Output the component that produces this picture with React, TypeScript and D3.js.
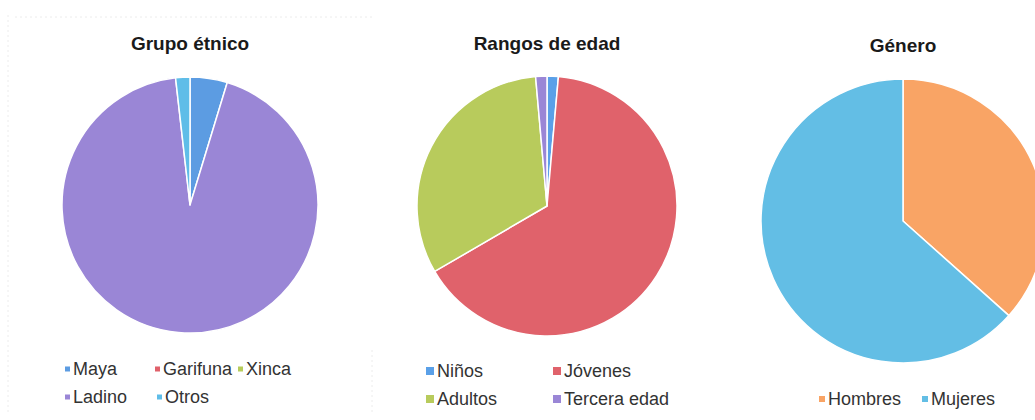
import React from 'react';
import * as d3 from 'd3';

// Grupo étnico
const etnicoLabels = ['Maya', 'Garifuna', 'Xinca', 'Ladino', 'Otros'];
const etnicoValues = [4.7, 0, 0, 93.5, 1.8];
const etnicoColors = ['#5c9ce2', '#e0606a', '#b6cc5a', '#9a86d6', '#5fbde8'];

// Rangos de edad
const edadLabels = ['Niños', 'Jóvenes', 'Adultos', 'Tercera edad'];
const edadValues = [1.4, 65.2, 32.0, 1.4];
const edadColors = ['#5aa0e8', '#e0626b', '#b8cb5c', '#9a86d6'];

// Género
const generoLabels = ['Hombres', 'Mujeres'];
const generoValues = [36.6, 63.4];
const generoColors = ['#f9a465', '#63bee5'];

const W = 1035;
const H = 420;
const FONT = '"Liberation Sans", Arial, sans-serif';

type LegendItem = { x: number, y: number };

type PieProps = {
  title: string,
  labels: string[],
  values: number[],
  colors: string[],
  cx: number,
  cy: number,
  r: number,
  titleY: number,
  legend: LegendItem[],
  marker: number,
};

const PieChart = ({ title, labels, values, colors, cx, cy, r, titleY, legend, marker }: PieProps) => {
  const pie = d3.pie<number>().sort(null).value((d) => d);
  const arc = d3.arc<d3.PieArcDatum<number>>().innerRadius(0).outerRadius(r);
  const arcs = pie(values);

  return (
    <g>
      <text
        x={cx}
        y={titleY}
        textAnchor="middle"
        fontFamily={FONT}
        fontWeight="bold"
        fontSize={19}
        fill="#1a1a1a"
      >
        {title}
      </text>
      <g transform={`translate(${cx},${cy})`}>
        {arcs.map((a, i) => (
          a.value > 0 ? (
            <path
              key={i}
              d={arc(a) || ''}
              fill={colors[i]}
              stroke="#fff"
              strokeWidth={1.5}
              strokeLinejoin="round"
            />
          ) : null
        ))}
      </g>
      <g className="legend">
        {labels.map((label, i) => (
          <g key={label} transform={`translate(${legend[i].x},${legend[i].y})`}>
            <rect
              x={-marker - 3}
              y={-marker / 2 - 6}
              width={marker}
              height={marker}
              fill={colors[i]}
            />
            <text
              x={0}
              y={0}
              fontFamily={FONT}
              fontSize={18}
              fill="#333"
            >
              {label}
            </text>
          </g>
        ))}
      </g>
    </g>
  );
};

const App = () => (
  <svg
    width={W}
    height={H}
    viewBox={`0 0 ${W} ${H}`}
    style={{ position: 'absolute', left: 0, top: 0, background: '#fff' }}
  >
    <g className="frame" stroke="#ececec" strokeDasharray="2 3" strokeWidth={1}>
      <line x1={15} x2={375} y1={17} y2={17} />
      <line x1={8} x2={8} y1={15} y2={415} />
      <line x1={372} x2={372} y1={350} y2={415} />
    </g>
    <PieChart
      title="Grupo étnico"
      labels={etnicoLabels}
      values={etnicoValues}
      colors={etnicoColors}
      cx={190}
      cy={205}
      r={128}
      titleY={50}
      marker={5}
      legend={[
        { x: 73, y: 375 },
        { x: 163, y: 375 },
        { x: 246, y: 375 },
        { x: 73, y: 403 },
        { x: 165, y: 403 },
      ]}
    />
    <PieChart
      title="Rangos de edad"
      labels={edadLabels}
      values={edadValues}
      colors={edadColors}
      cx={547}
      cy={206}
      r={130}
      titleY={50}
      marker={8}
      legend={[
        { x: 437, y: 377 },
        { x: 564, y: 377 },
        { x: 437, y: 405 },
        { x: 564, y: 405 },
      ]}
    />
    <PieChart
      title="Género"
      labels={generoLabels}
      values={generoValues}
      colors={generoColors}
      cx={903}
      cy={221}
      r={142}
      titleY={52}
      marker={6}
      legend={[
        { x: 828, y: 405 },
        { x: 931, y: 405 },
      ]}
    />
  </svg>
);

export default App;
